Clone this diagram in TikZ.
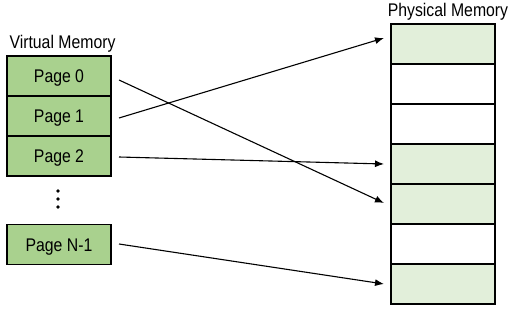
\documentclass[tikz,border=0pt]{standalone}
\usepackage{fontspec}
\usepackage{graphicx}
\setmainfont{Liberation Sans}
\usetikzlibrary{arrows.meta}
\newcommand\vtxt[1]{\scalebox{1}[1.16]{#1}}
\begin{document}
\begin{tikzpicture}[x=1pt,y=-1pt,
  vbox/.style={draw=black,line width=1.2pt,fill=vgreen,minimum width=104pt,minimum height=40pt,inner sep=0pt,font=\fontsize{15.8}{18}\selectfont,text height=13pt,text depth=0pt},
  pbox/.style={draw=black,line width=1.2pt,minimum width=104pt,minimum height=40pt,inner sep=0pt},
  used/.style={fill=pgreen},
  free/.style={fill=white},
  lbl/.style={font=\fontsize{15.8}{18}\selectfont,inner sep=0pt,text height=13pt,text depth=0pt},
  link/.style={line width=1.1pt,-{Latex[length=9pt,width=7pt]}}]
\definecolor{vgreen}{HTML}{A9D18E}
\definecolor{pgreen}{HTML}{E2EFDA}
\useasboundingbox (0,0) rectangle (514,313);
% virtual
\node[lbl] (vt) at (62.5,41.8) {\vtxt{Virtual Memory}};
\node[vbox] (v0) at (59,76) {\vtxt{Page 0}};
\node[vbox] (v1) at (59,116) {\vtxt{Page 1}};
\node[vbox] (v2) at (59,156) {\vtxt{Page 2}};
\node[vbox] (vn) at (59,244.5) {\vtxt{Page N-1}};
\foreach \yy in {191,199,207} \fill (58,\yy) circle (1.8pt);
% physical
\node[lbl] (pt) at (448,10.5) {\vtxt{Physical Memory}};
\node[pbox,used] (p0) at (443,44) {};
\node[pbox,free] (p1) at (443,84) {};
\node[pbox,free] (p2) at (443,124) {};
\node[pbox,used] (p3) at (443,164) {};
\node[pbox,used] (p4) at (443,204) {};
\node[pbox,free] (p5) at (443,244) {};
\node[pbox,used] (p6) at (443,284) {};
% links
\coordinate (s0) at (119,80);
\coordinate (s1) at (119,118);
\coordinate (s2) at (119,157);
\coordinate (sn) at (119,244);
\coordinate (t0) at (384,203);
\coordinate (t1) at (384,38);
\coordinate (t2) at (384,164);
\coordinate (tn) at (384,284);
\draw[link] (s0) -- (t0);
\draw[link] (s1) -- (t1);
\draw[link] (s2) -- (t2);
\draw[link] (sn) -- (tn);
\end{tikzpicture}
\end{document}
